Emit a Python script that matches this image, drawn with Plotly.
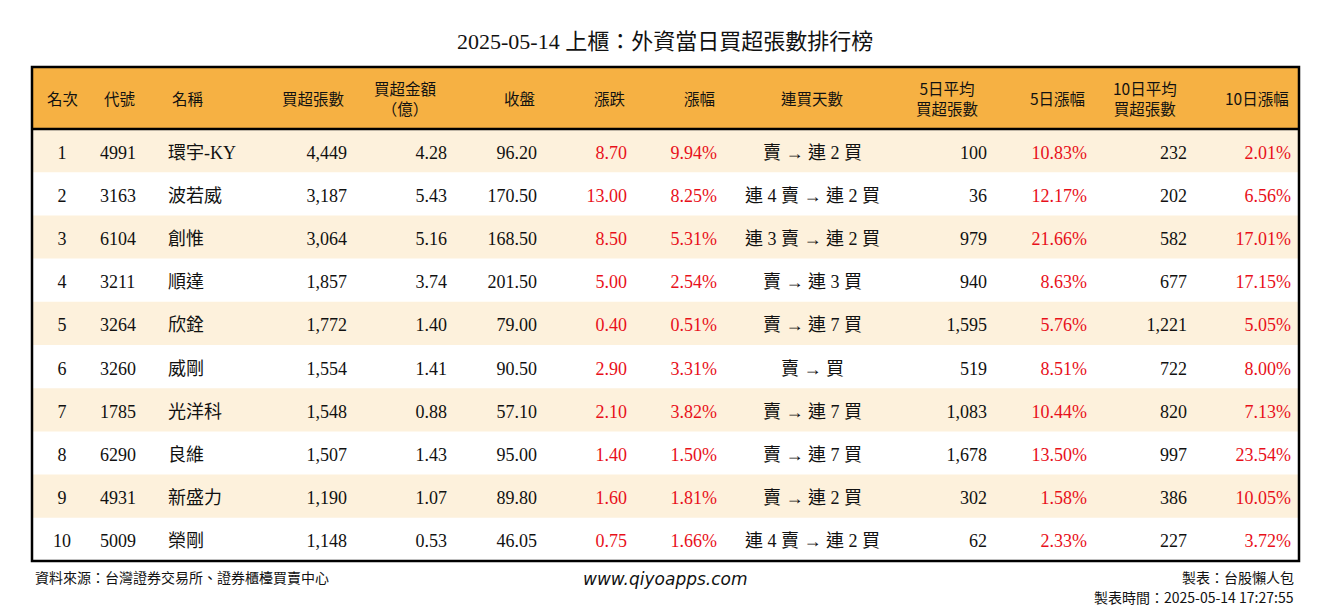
import plotly.graph_objects as go

headers = ["名次", "代號", "名稱", "買超張數", "買超金額<br>（億）", "收盤", "漲跌", "漲幅", "連買天數",
           "5日平均<br>買超張數", "5日漲幅", "10日平均<br>買超張數", "10日漲幅"]
rank = [1, 2, 3, 4, 5, 6, 7, 8, 9, 10]
code = ["4991", "3163", "6104", "3211", "3264", "3260", "1785", "6290", "4931", "5009"]
name = ["環宇-KY", "波若威", "創惟", "順達", "欣銓", "威剛", "光洋科", "良維", "新盛力", "榮剛"]
buy_lots = ["4,449", "3,187", "3,064", "1,857", "1,772", "1,554", "1,548", "1,507", "1,190", "1,148"]
buy_amt = ["4.28", "5.43", "5.16", "3.74", "1.40", "1.41", "0.88", "1.43", "1.07", "0.53"]
close = ["96.20", "170.50", "168.50", "201.50", "79.00", "90.50", "57.10", "95.00", "89.80", "46.05"]
change = ["8.70", "13.00", "8.50", "5.00", "0.40", "2.90", "2.10", "1.40", "1.60", "0.75"]
pct = ["9.94%", "8.25%", "5.31%", "2.54%", "0.51%", "3.31%", "3.82%", "1.50%", "1.81%", "1.66%"]
streak = ["賣 → 連 2 買", "連 4 賣 → 連 2 買", "連 3 賣 → 連 2 買", "賣 → 連 3 買", "賣 → 連 7 買",
          "賣 → 買", "賣 → 連 7 買", "賣 → 連 7 買", "賣 → 連 2 買", "連 4 賣 → 連 2 買"]
avg5 = ["100", "36", "979", "940", "1,595", "519", "1,083", "1,678", "302", "62"]
pct5 = ["10.83%", "12.17%", "21.66%", "8.63%", "5.76%", "8.51%", "10.44%", "13.50%", "1.58%", "2.33%"]
avg10 = ["232", "202", "582", "677", "1,221", "722", "820", "997", "386", "227"]
pct10 = ["2.01%", "6.56%", "17.01%", "17.15%", "5.05%", "8.00%", "7.13%", "23.54%", "10.05%", "3.72%"]

cols = [rank, code, name, buy_lots, buy_amt, close, change, pct, streak, avg5, pct5, avg10, pct10]
widths = [60, 68, 95, 100, 100, 90, 90, 90, 175, 95, 100, 100, 104]
align_h = ["center", "left", "left", "right", "center", "right", "right", "right", "center", "center", "right", "center", "right"]
align_c = ["center", "left", "left", "right", "right", "right", "right", "right", "center", "right", "right", "right", "right"]
red_cols = {6, 7, 10, 12}
RED = "#e8101a"
FONT = "Liberation Serif, Noto Sans CJK TC"
CJK = "Noto Sans CJK TC"

W, H, OFF = 1314, 604, 8
def px(x): return (x - OFF) / W
def py(y): return 1 - (y - OFF) / H

L, R, T, HB, B = 32, 1299, 67, 129, 561
ROWH = (B - HB) / len(rank)
SHIFT = 8

fig = go.Figure(go.Table(
    columnwidth=widths,
    domain=dict(x=[px(L), px(R)], y=[py(B) - 0.05, py(T)]),
    header=dict(values=[""] * len(headers), fill_color="rgba(0,0,0,0)", height=HB - T + SHIFT,
                line=dict(width=0)),
    cells=dict(values=cols, fill_color="rgba(0,0,0,0)", align=align_c,
               font=dict(family=FONT, size=18, color=[RED if i in red_cols else "#111111" for i in range(len(cols))]),
               height=ROWH, line=dict(width=0)),
))

fig.add_shape(type="rect", xref="paper", yref="paper", x0=px(L), x1=px(R), y0=py(HB), y1=py(T),
              fillcolor="#f6b143", line=dict(width=0), layer="below")
for i, _ in enumerate(rank):
    if i % 2 == 0:
        fig.add_shape(type="rect", xref="paper", yref="paper", x0=px(L), x1=px(R),
                      y0=py(HB + (i + 1) * ROWH), y1=py(HB + i * ROWH),
                      fillcolor="#fdf1dc", line=dict(width=0), layer="below")

total = sum(widths)
xcur = L
for h, w, a in zip(headers, widths, align_h):
    cw = w / total * (R - L)
    if a == "left":
        xa, anc = xcur + 10, "left"
    elif a == "right":
        xa, anc = xcur + cw - 8, "right"
    else:
        xa, anc = xcur + cw / 2, "center"
    fig.add_annotation(text=h, x=px(xa), y=py((T + HB) / 2), xref="paper", yref="paper",
                       xanchor=anc, yanchor="middle", showarrow=False, align="center",
                       font=dict(family=CJK, size=15.5, color="#111"))
    xcur += cw

fig.add_shape(type="rect", xref="paper", yref="paper", x0=px(L), x1=px(R),
              y0=py(B), y1=py(T), line=dict(color="black", width=2.5))
fig.add_shape(type="line", xref="paper", yref="paper", x0=px(L), x1=px(R),
              y0=py(HB), y1=py(HB), line=dict(color="black", width=2.5))

def note(text, x, y, anc, font, size):
    fig.add_annotation(text=text, x=px(x), y=py(y), xref="paper", yref="paper",
                       xanchor=anc, yanchor="middle", showarrow=False,
                       font=dict(family=font, size=size, color="#111"))

note("2025-05-14 上櫃：外資當日買超張數排行榜", 665, 42, "center", FONT, 22)
note("資料來源：台灣證券交易所、證券櫃檯買賣中心", 33, 577, "left", CJK, 14)
note("<i>www.qiyoapps.com</i>", 665, 579, "center", "DejaVu Sans, Open Sans", 17)
note("製表：台股懶人包", 1296, 577, "right", CJK, 14)
note("製表時間：2025-05-14 17:27:55", 1296, 597, "right", CJK, 14)

fig.update_layout(width=W, height=H, margin=dict(l=0, r=0, t=0, b=0),
                  paper_bgcolor="white", plot_bgcolor="rgba(0,0,0,0)")
fig.write_html("out.html")
